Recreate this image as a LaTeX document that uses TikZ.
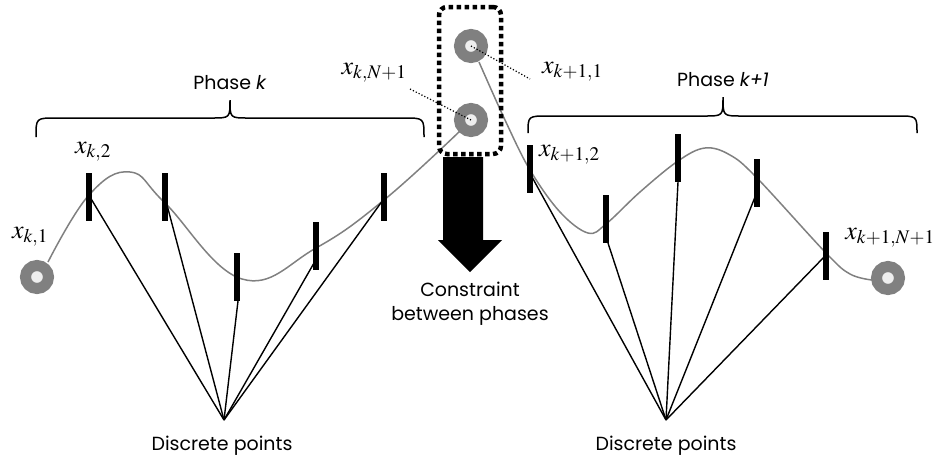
\documentclass[tikz,border=0pt]{standalone}
\usepackage{mathptmx}
\usepackage{fontspec}
\setmainfont{Poppins}
\definecolor{ringgrey}{HTML}{808080}
\definecolor{ringin}{HTML}{EEEEEE}
\tikzset{
  bar/.style={fill=black, draw=none, minimum width=6pt, minimum height=48pt, inner sep=0pt},
  ring/.style={circle, draw=ringgrey, line width=11pt, fill=ringin, minimum size=23pt, inner sep=0pt},
  traj/.style={draw=ringgrey, line width=1.5pt},
  spoke/.style={draw=black, line width=1.4pt},
  brace/.style={draw=black, line width=1.5pt},
  leader/.style={draw=black, line width=1.2pt, dotted},
  cbox/.style={draw=black, line width=4.5pt, dash pattern=on 4.5pt off 3.5pt, rounded corners=8pt, minimum width=62pt, minimum height=147pt, inner sep=0pt},
  txt/.style={font=\fontsize{19}{24}\selectfont, align=center, inner sep=0pt},
  mlab/.style={font=\fontsize{26}{26}\selectfont, inner sep=0pt},
}
\begin{document}
\begin{tikzpicture}[x=1pt,y=-1pt]
\useasboundingbox (0,0) rectangle (938,464);

\node[ring] (c1) at (37,277) {};
\node[ring] (cN) at (471,120) {};
\node[ring] (d1) at (471,46) {};
\node[ring] (dN) at (888,278) {};

\draw[traj] plot[smooth, tension=0.7] coordinates {(48,262) (89,195) (130,172) (165,203) (242,279) (316,248) (384,200) (460,131)};
\draw[traj] plot[smooth, tension=0.6] coordinates {(479,62) (505,120) (530,170) (560,212) (588,233) (606,224) (640,192) (678,161) (705,148) (730,155) (757,178) (826,253) (850,274) (872,280)};

\node[bar] (b1) at (89,197) {};
\node[bar] (b2) at (165,197) {};
\node[bar] (b3) at (237,277) {};
\node[bar] (b4) at (316,246) {};
\node[bar] (b5) at (384,197) {};

\node[bar] (r1) at (530,169) {};
\node[bar] (r2) at (606,219) {};
\node[bar] (r3) at (678,158) {};
\node[bar] (r4) at (757,183) {};
\node[bar] (r5) at (826,256) {};

\coordinate (dl) at (224,420);
\coordinate (dr) at (666,420);

\coordinate (b1p) at (90,197);
\coordinate (b2p) at (167,205);
\coordinate (b3p) at (238,301);
\coordinate (b4p) at (314,263);
\coordinate (b5p) at (383,200);
\coordinate (r1p) at (532,177);
\coordinate (r2p) at (608,243);
\coordinate (r3p) at (678,182);
\coordinate (r4p) at (755,197);
\coordinate (r5p) at (826,255);

\foreach \p in {b1p,b2p,b3p,b4p,b5p} \draw[spoke] (dl) -- (\p);
\foreach \p in {r1p,r2p,r3p,r4p,r5p} \draw[spoke] (dr) -- (\p);

\node[txt] (dtl) at (222,446) {Discrete points};
\node[txt] (dtr) at (666,446) {Discrete points};

\draw[brace] (36,137) .. controls (36,118) .. (56,118) -- (212,118) .. controls (230,118) .. (230,100) .. controls (230,118) .. (248,118) -- (404,118) .. controls (424,118) .. (424,137);
\draw[brace] (528,133) .. controls (528,116) .. (548,116) -- (705,116) .. controls (723,116) .. (723,97) .. controls (723,116) .. (741,116) -- (897,116) .. controls (917,116) .. (917,133);
\node[txt] (phk) at (230,83) {Phase \textit{k}};
\node[txt] (phk1) at (723,80) {Phase \textit{k+1}};

\node[mlab] (l1) at (30,237) {$x_{k,1}$};
\node[mlab] (l2) at (93,152) {$x_{k,2}$};
\node[mlab] (lN) at (374,73) {$x_{k,N+1}$};
\node[mlab, anchor=west] (m1) at (542,72) {$x_{k+1,1}$};
\node[mlab, anchor=west] (m2) at (539,155) {$x_{k+1,2}$};
\node[mlab, anchor=east] (mN) at (935,238) {$x_{k+1,N+1}$};

\coordinate (lNe) at (410,89);
\coordinate (m1e) at (530,79);
\draw[leader] (lNe) -- (cN.center);
\draw[leader] (d1.center) -- (m1e);

\node[cbox] (box) at (470,80.5) {};
\fill[black] (443,157) -- (483,157) -- (483,240) -- (502,240) -- (470,272) -- (438,240) -- (443,240) -- cycle;
\node[txt] (con) at (470,304) {Constraint\\between phases};
\end{tikzpicture}
\end{document}
